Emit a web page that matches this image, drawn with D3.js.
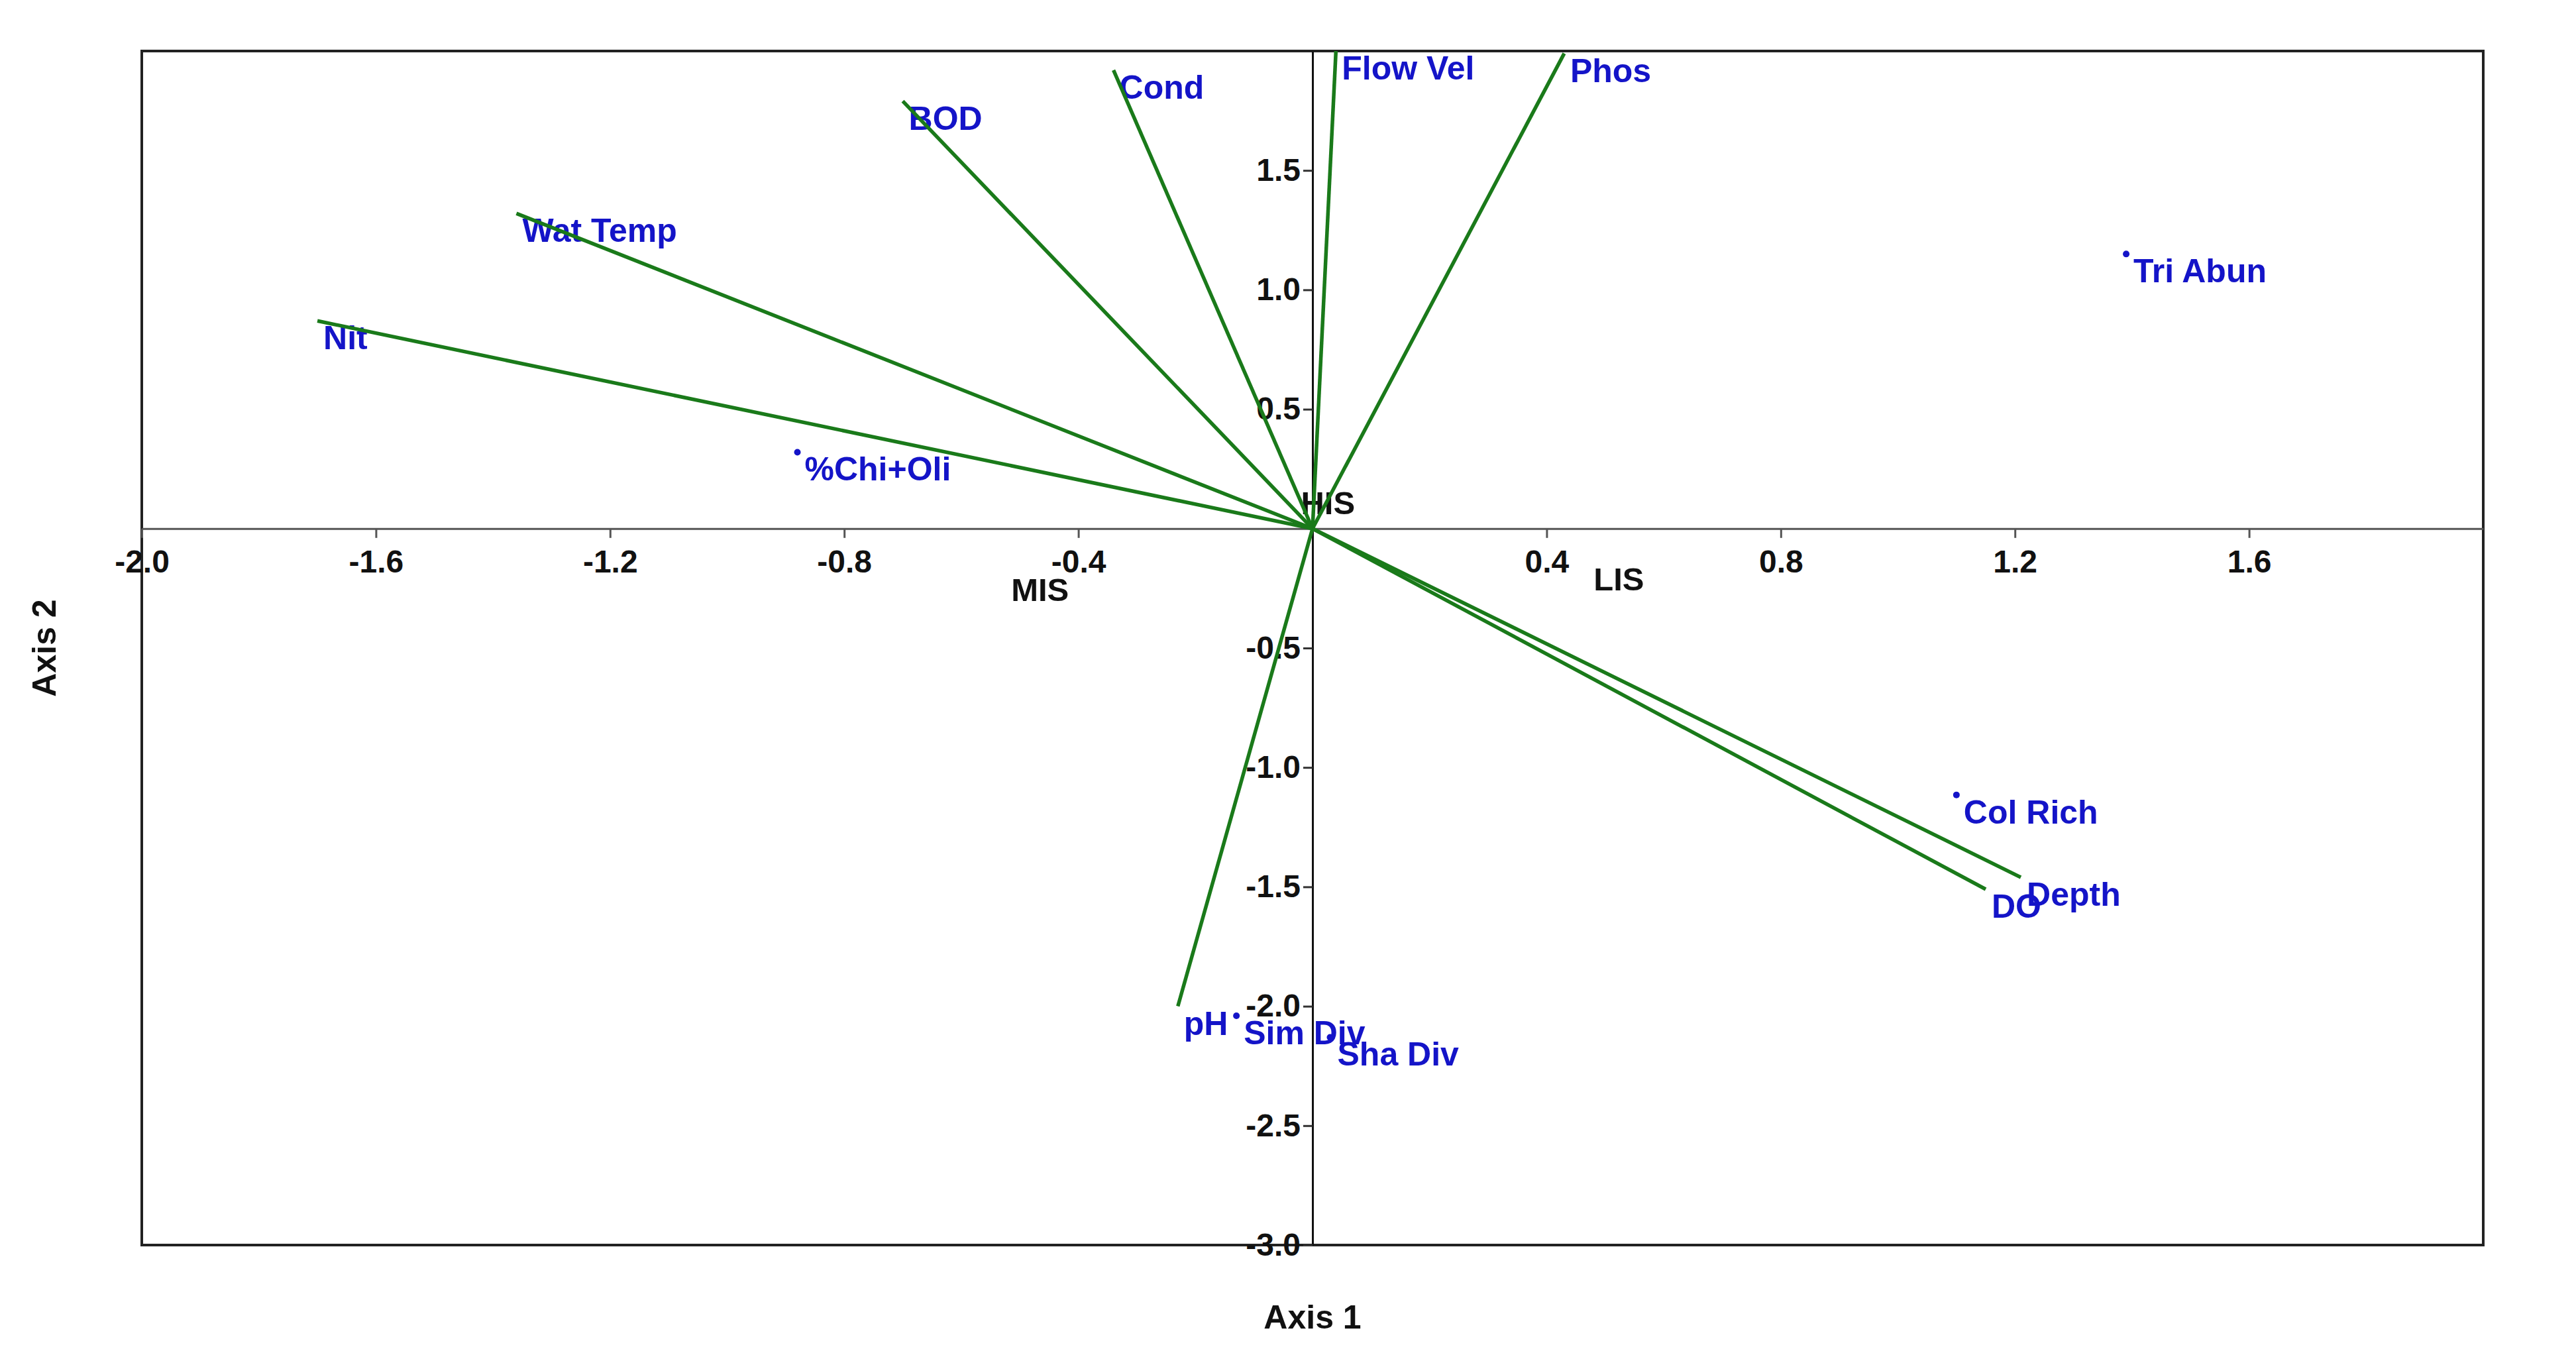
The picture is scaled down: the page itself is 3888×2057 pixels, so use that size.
<!DOCTYPE html>
<html>
<head>
<meta charset="utf-8">
<script src="https://cdn.jsdelivr.net/npm/d3@7"></script>
<style>
  html, body { margin: 0; padding: 0; background: #fff; }
  svg text { font-family: "Liberation Sans", Arial, sans-serif; font-weight: bold; }
</style>
</head>
<body>
<svg id="chart" width="3888" height="2057"></svg>
<script>
// environmental vectors (arrow tips)
const vectorNames = ['Flow Vel', 'Phos', 'Cond', 'BOD', 'Wat Temp', 'Nit', 'pH', 'Depth', 'DO'];
const vectorX = [0.04, 0.43, -0.34, -0.70, -1.36, -1.70, -0.23, 1.21, 1.15];
const vectorY = [2.0, 1.99, 1.92, 1.79, 1.32, 0.87, -2.0, -1.46, -1.51];

// species / community metrics (points)
const pointNames = ['Tri Abun', '%Chi+Oli', 'Col Rich', 'Sim Div', 'Sha Div'];
const pointX = [1.39, -0.88, 1.10, -0.13, 0.03];
const pointY = [1.15, 0.32, -1.115, -2.04, -2.13];

// site groups (labels only)
const siteNames = ['HIS', 'MIS', 'LIS'];
const siteX = [-0.03, -0.525, 0.47];
const siteY = [0.18, -0.185, -0.138];

const xTicks = [-2.0, -1.6, -1.2, -0.8, -0.4, 0.4, 0.8, 1.2, 1.6];
const yTicks = [1.5, 1.0, 0.5, -0.5, -1.0, -1.5, -2.0, -2.5, -3.0];

const svg = d3.select('#chart');
const plotLeft = 214, plotRight = 3748, plotTop = 77, plotBottom = 1879;

const x = d3.scaleLinear().domain([-2, 2]).range([plotLeft, plotRight]);
const y = d3.scaleLinear().domain([-3, 2]).range([plotBottom, plotTop]);

// plain hyphen minus, like the original
const fmt = d => d.toFixed(1);
const labelDx = 9, labelDy = 43;

// frame
svg.append('rect')
  .attr('x', plotLeft).attr('y', plotTop)
  .attr('width', plotRight - plotLeft).attr('height', plotBottom - plotTop)
  .attr('fill', 'none').attr('stroke', '#222').attr('stroke-width', 4);

// x axis along y = 0
const xAxis = svg.append('g')
  .attr('transform', `translate(0,${y(0)})`)
  .call(d3.axisBottom(x).tickValues(xTicks).tickFormat(fmt)
    .tickSize(14).tickSizeOuter(0).tickPadding(18));
xAxis.select('.domain').attr('stroke', '#555').attr('stroke-width', 3);
xAxis.selectAll('.tick line').attr('stroke', '#555').attr('stroke-width', 3);
xAxis.selectAll('.tick text')
  .attr('fill', '#111').style('font-size', '48px')
  .style('font-family', '"Liberation Sans", Arial, sans-serif').style('font-weight', 'bold');

// y axis along x = 0
const yAxis = svg.append('g')
  .attr('transform', `translate(${x(0)},0)`)
  .call(d3.axisLeft(y).tickValues(yTicks).tickFormat(fmt)
    .tickSize(14).tickSizeOuter(0).tickPadding(4));
yAxis.select('.domain').attr('stroke', '#111').attr('stroke-width', 3);
yAxis.selectAll('.tick line').attr('stroke', '#333').attr('stroke-width', 3);
yAxis.selectAll('.tick text')
  .attr('fill', '#111').style('font-size', '48px')
  .style('font-family', '"Liberation Sans", Arial, sans-serif').style('font-weight', 'bold');

// axis titles
svg.append('text')
  .attr('x', (plotLeft + plotRight) / 2).attr('y', 2005)
  .attr('text-anchor', 'middle').attr('font-size', 50).attr('fill', '#111')
  .text('Axis 1');
svg.append('text')
  .attr('transform', `translate(84,${(plotTop + plotBottom) / 2}) rotate(-90)`)
  .attr('text-anchor', 'middle').attr('font-size', 50).attr('fill', '#111')
  .text('Axis 2');

// site labels
svg.append('g').selectAll('text')
  .data(siteNames)
  .join('text')
  .attr('x', (d, i) => x(siteX[i]) + labelDx)
  .attr('y', (d, i) => y(siteY[i]) + labelDy)
  .attr('font-size', 49).attr('fill', '#111')
  .text(d => d);

// point markers + labels
svg.append('g').selectAll('circle')
  .data(pointNames)
  .join('circle')
  .attr('cx', (d, i) => x(pointX[i]))
  .attr('cy', (d, i) => y(pointY[i]))
  .attr('r', 5)
  .attr('fill', '#1414c8');

svg.append('g').selectAll('text')
  .data(pointNames)
  .join('text')
  .attr('x', (d, i) => x(pointX[i]) + labelDx + 2)
  .attr('y', (d, i) => y(pointY[i]) + labelDy)
  .attr('font-size', 50).attr('fill', '#1414c8')
  .text(d => d);

// vector labels
svg.append('g').selectAll('text')
  .data(vectorNames)
  .join('text')
  .attr('x', (d, i) => x(vectorX[i]) + labelDx)
  .attr('y', (d, i) => y(vectorY[i]) + labelDy)
  .attr('font-size', 50).attr('fill', '#1414c8')
  .text(d => d);

// vectors from origin
svg.append('g').selectAll('line')
  .data(vectorNames)
  .join('line')
  .attr('x1', x(0)).attr('y1', y(0))
  .attr('x2', (d, i) => x(vectorX[i]))
  .attr('y2', (d, i) => y(vectorY[i]))
  .attr('stroke', '#1a7a1a')
  .attr('stroke-width', 5.5);
</script>
</body>
</html>
